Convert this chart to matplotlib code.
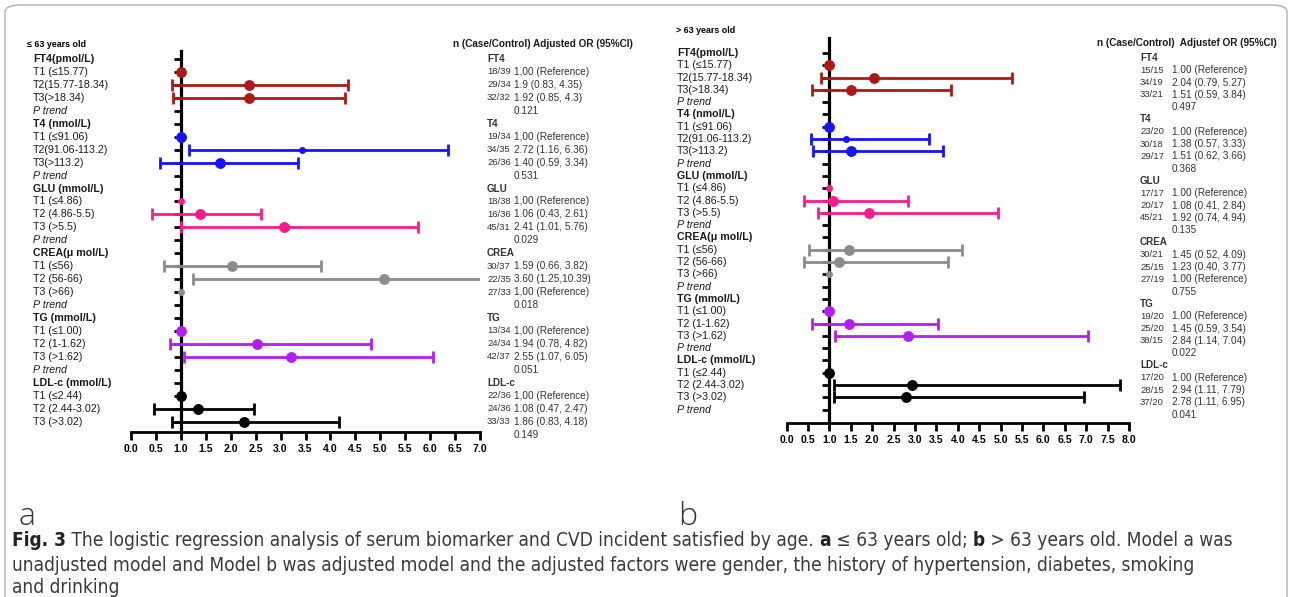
import matplotlib
matplotlib.use("Agg")
import matplotlib.pyplot as plt
from matplotlib.transforms import blended_transform_factory
from matplotlib.patches import FancyBboxPatch
from matplotlib import font_manager

# ---- data -------------------------------------------------------------
groups = ["FT4", "T4", "GLU", "CREA", "TG", "LDL-c"]
group_headers = ["FT4(pmol/L)", "T4 (nmol/L)", "GLU (mmol/L)",
                 "CREA(μ mol/L)", "TG (mmol/L)", "LDL-c (mmol/L)"]
tier_labels = [
    ["T1 (≤15.77)", "T2(15.77-18.34)", "T3(>18.34)"],
    ["T1 (≤91.06)", "T2(91.06-113.2)", "T3(>113.2)"],
    ["T1 (≤4.86)", "T2 (4.86-5.5)", "T3 (>5.5)"],
    ["T1 (≤56)", "T2 (56-66)", "T3 (>66)"],
    ["T1 (≤1.00)", "T2 (1-1.62)", "T3 (>1.62)"],
    ["T1 (≤2.44)", "T2 (2.44-3.02)", "T3 (>3.02)"],
]
colors = ["#b01818", "#1414ff", "#ff1a8c", "#8c8c8c", "#b41ef0", "#000000"]

# panel a (<= 63 years), values as drawn
or_young = [[1.0, 2.37, 2.37], [1.0, 3.43, 1.79], [1.0, 1.39, 3.07],
            [2.03, 5.07, 1.0], [1.0, 2.52, 3.21], [1.0, 1.35, 2.27]]
lo_young = [[None, 0.83, 0.85], [None, 1.16, 0.59], [None, 0.43, 1.01],
            [0.66, 1.25, None], [None, 0.78, 1.07], [None, 0.47, 0.83]]
hi_young = [[None, 4.35, 4.3], [None, 6.36, 3.34], [None, 2.61, 5.76],
            [3.82, 10.39, None], [None, 4.82, 6.05], [None, 2.47, 4.18]]
n_young = [["18/39", "29/34", "32/32"], ["19/34", "34/35", "26/36"],
           ["18/38", "16/36", "45/31"], ["30/37", "22/35", "27/33"],
           ["13/34", "24/34", "42/37"], ["22/36", "24/36", "33/33"]]
ci_young = [["1,00 (Reference)", "1.9 (0.83, 4.35)", "1.92 (0.85, 4.3)"],
            ["1,00 (Reference)", "2.72 (1.16, 6.36)", "1.40 (0.59, 3.34)"],
            ["1,00 (Reference)", "1.06 (0.43, 2.61)", "2.41 (1.01, 5.76)"],
            ["1.59 (0.66, 3.82)", "3.60 (1.25,10.39)", "1,00 (Reference)"],
            ["1,00 (Reference)", "1.94 (0.78, 4.82)", "2.55 (1.07, 6.05)"],
            ["1,00 (Reference)", "1.08 (0.47, 2.47)", "1.86 (0.83, 4.18)"]]
p_young = ["0.121", "0.531", "0.029", "0.018", "0.051", "0.149"]

# panel b (> 63 years)
or_old = [[1.0, 2.04, 1.51], [1.0, 1.38, 1.51], [1.0, 1.08, 1.92],
          [1.45, 1.23, 1.0], [1.0, 1.45, 2.84], [1.0, 2.94, 2.78]]
lo_old = [[None, 0.79, 0.59], [None, 0.57, 0.62], [None, 0.41, 0.74],
          [0.52, 0.40, None], [None, 0.59, 1.14], [None, 1.11, 1.11]]
hi_old = [[None, 5.27, 3.84], [None, 3.33, 3.66], [None, 2.84, 4.94],
          [4.09, 3.77, None], [None, 3.54, 7.04], [None, 7.79, 6.95]]
n_old = [["15/15", "34/19", "33/21"], ["23/20", "30/18", "29/17"],
         ["17/17", "20/17", "45/21"], ["30/21", "25/15", "27/19"],
         ["19/20", "25/20", "38/15"], ["17/20", "28/15", "37/20"]]
ci_old = [["1.00 (Reference)", "2.04 (0.79, 5.27)", "1.51 (0.59, 3.84)"],
          ["1.00 (Reference)", "1.38 (0.57, 3.33)", "1.51 (0.62, 3.66)"],
          ["1.00 (Reference)", "1.08 (0.41, 2.84)", "1.92 (0.74, 4.94)"],
          ["1.45 (0.52, 4.09)", "1.23 (0.40, 3.77)", "1.00 (Reference)"],
          ["1.00 (Reference)", "1.45 (0.59, 3.54)", "2.84 (1.14, 7.04)"],
          ["1.00 (Reference)", "2.94 (1.11, 7.79)", "2.78 (1.11, 6.95)"]]
p_old = ["0.497", "0.368", "0.135", "0.755", "0.022", "0.041"]

# ---- layout helpers ---------------------------------------------------
W, H = 1292, 597
FONT = ["Liberation Sans", "DejaVu Sans"]
ttf = font_manager.fontManager.ttflist
names = {f.name for f in ttf}
condensed = [f.name for f in ttf if f.stretch in ("condensed", "semi-condensed")]
if "Liberation Sans Narrow" in names:
    CAP_FONT, CAP_STRETCH = "Liberation Sans Narrow", "normal"
elif condensed:
    CAP_FONT = "DejaVu Sans" if "DejaVu Sans" in condensed else condensed[0]
    CAP_STRETCH = "condensed"
else:
    CAP_FONT, CAP_STRETCH = "Liberation Sans", "normal"


def fx(px):
    return px / W


def fy(py):
    return 1 - py / H


fig = plt.figure(figsize=(W / 100, H / 100), dpi=100)
fig.patch.set_facecolor("white")


def forest(left, right, top, bottom, row0, step, xmax, nrows,
           odds, lo, hi, small):
    ax = fig.add_axes([fx(left), fy(bottom), fx(right) - fx(left), (bottom - top) / H])
    ax.set_xlim(0, xmax)
    ax.set_ylim((bottom - row0) / step, (top - row0) / step)
    for s in ["top", "right"]:
        ax.spines[s].set_visible(False)
    ax.spines["left"].set_position(("data", 1.0))
    ax.spines["left"].set_linewidth(2.3)
    ax.spines["bottom"].set_linewidth(2.0)
    ax.set_yticks(range(nrows))
    ax.tick_params(axis="y", direction="out", length=5, width=2, labelleft=False)
    ax.set_xticks([i * 0.5 for i in range(int(xmax * 2) + 1)])
    ax.set_xticklabels([f"{i * 0.5:.1f}" for i in range(int(xmax * 2) + 1)],
                       fontsize=7.6, fontweight="bold", family=FONT)
    ax.tick_params(axis="x", direction="out", length=6, width=2, pad=2.5)
    for g in range(6):
        for t in range(3):
            row = 5 * g + 1 + t
            ms = 4 if (g, t) in small else 6.8
            x = odds[g][t]
            if lo[g][t] is None:
                ax.plot(x, row, "o", color=colors[g], ms=ms, zorder=4)
            else:
                ax.errorbar(x, row, xerr=[[x - lo[g][t]], [hi[g][t] - x]], fmt="o",
                            color=colors[g], ms=ms, elinewidth=2, capsize=4,
                            capthick=2, zorder=4)
    return ax


def row_labels(ax, x_px, nrows):
    tr = blended_transform_factory(fig.transFigure, ax.transData)
    for r in range(nrows):
        g, k = divmod(r, 5)
        if k == 0:
            s, kw = group_headers[g], dict(fontweight="bold")
        elif k == 4:
            s, kw = "P trend", dict(style="italic")
        else:
            s, kw = tier_labels[g][k - 1], {}
        ax.text(fx(x_px), r, s, transform=tr, va="center", ha="left",
                fontsize=7.7, color="#1a1a1a", family=FONT, **kw)


def table(ax, x_n, x_or, x_head, head_row, shift, n, ci, p, title):
    tr = blended_transform_factory(fig.transFigure, ax.transData)
    ax.text(fx(x_head), head_row, title, transform=tr, va="center", ha="left",
            fontsize=7.2, fontweight="bold", color="#1a1a1a", family=FONT)
    kw = dict(transform=tr, va="center", ha="left", color="#333333",
              family=FONT, clip_on=False)
    for g in range(6):
        base = 5 * g + shift
        ax.text(fx(x_n), base, groups[g], fontweight="bold", fontsize=7.1, **kw)
        for t in range(3):
            ax.text(fx(x_n), base + 1 + t, n[g][t], fontsize=6.8, **kw)
            ax.text(fx(x_or), base + 1 + t, ci[g][t], fontsize=7.2, **kw)
        ax.text(fx(x_or), base + 4, p[g], fontsize=7.2, **kw)


# panel a
ax_a = forest(131, 480, 51, 432, 59, 12.95, 7.0, 29, or_young, lo_young, hi_young,
              {(1, 1), (2, 0), (3, 2)})
row_labels(ax_a, 33, 29)
ax_a.text(fx(27), -1.15, "≤ 63 years old",
          transform=blended_transform_factory(fig.transFigure, ax_a.transData),
          va="center", fontsize=6.4, fontweight="bold", family=FONT)
table(ax_a, 487, 514, 453, -1.15, 0, n_young, ci_young, p_young,
      "n (Case/Control) Adjusted OR (95%CI)")

# panel b
ax_b = forest(786.7, 1129, 38, 423, 53, 12.3, 8.0, 30, or_old, lo_old, hi_old,
              {(1, 1), (2, 0), (3, 2)})
row_labels(ax_b, 677, 30)
ax_b.text(fx(676), -1.8, "> 63 years old",
          transform=blended_transform_factory(fig.transFigure, ax_b.transData),
          va="center", fontsize=6.4, fontweight="bold", family=FONT)
table(ax_b, 1140, 1172, 1097, -0.8, 0.4, n_old, ci_old, p_old,
      "n (Case/Control)  Adjustef OR (95%CI)")

# panel letters
fig.text(fx(18), fy(517), "a", fontsize=23, fontweight="light", color="#333333",
         va="center", family="Open Sans")
fig.text(fx(678), fy(517), "b", fontsize=23, fontweight="light", color="#333333",
         va="center", family="Open Sans")

# caption
renderer = fig.canvas.get_renderer()
CAP_KW = dict(family=[CAP_FONT, "DejaVu Sans"], stretch=CAP_STRETCH)


def run_width(s, size, weight):
    t = fig.text(0, 0, "|" + s + "|", fontsize=size, fontweight=weight, **CAP_KW)
    w1 = t.get_window_extent(renderer).width
    t.remove()
    t = fig.text(0, 0, "||", fontsize=size, fontweight=weight, **CAP_KW)
    w2 = t.get_window_extent(renderer).width
    t.remove()
    return w1 - w2


caption = [
    [("Fig. 3", "bold"), (" The logistic regression analysis of serum biomarker and CVD incident satisfied by age. ", "normal"),
     ("a", "bold"), (" ≤ 63 years old; ", "normal"), ("b", "bold"), (" > 63 years old. Model a was", "normal")],
    [("unadjusted model and Model b was adjusted model and the adjusted factors were gender, the history of hypertension, diabetes, smoking", "normal")],
    [("and drinking", "normal")],
]
total = sum(run_width(s, 10, w) for s, w in caption[0])
cap_size = min(10 * 1226 / total, 14.5)
for line, y in zip(caption, [546, 571, 593]):
    x = 12
    for s, w in line:
        fig.text(fx(x), fy(y), s, fontsize=cap_size, fontweight=w, va="baseline",
                 color="#222222" if w == "bold" else "#3a3a3a", **CAP_KW)
        x += run_width(s, cap_size, w)

# frame
frame = FancyBboxPatch((fx(5), fy(640)), fx(1287) - fx(5), fy(5) - fy(640),
                       boxstyle="round,pad=0,rounding_size=0.012", transform=fig.transFigure,
                       fill=False, edgecolor="#b0b0b0", linewidth=1.0)
fig.patches.append(frame)

fig.savefig("out.png", dpi=100)
